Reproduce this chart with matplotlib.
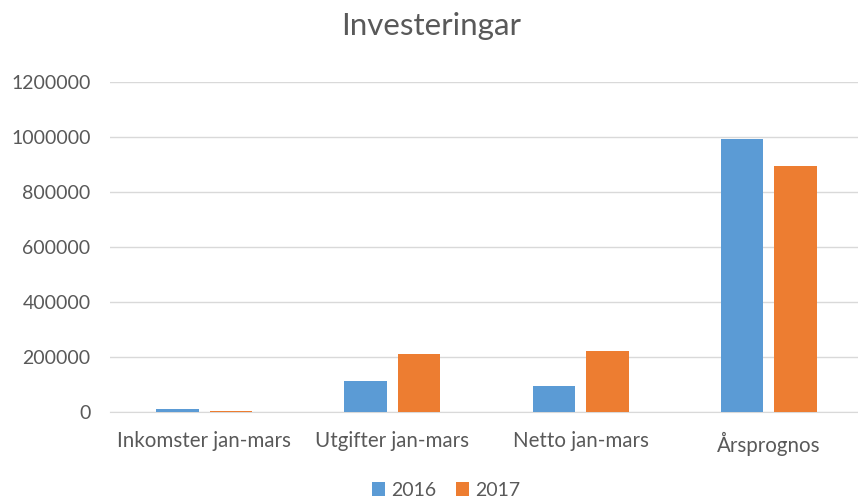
import numpy as np
import matplotlib
matplotlib.use("Agg")
import matplotlib.pyplot as plt

categories = ["Inkomster jan-mars", "Utgifter jan-mars", "Netto jan-mars", "Årsprognos"]
values_2016 = [12000, 114000, 96000, 992000]
values_2017 = [4000, 210000, 222000, 896000]
series_labels = ["2016", "2017"]
yticks = [0, 200000, 400000, 600000, 800000, 1000000, 1200000]

plt.rcParams["font.family"] = ["Lato", "DejaVu Sans"]
text_color = "#595959"
grid_color = "#d9d9d9"

fig = plt.figure(figsize=(8.58, 4.99), dpi=100)
ax = fig.add_axes([110 / 858, 1 - 412 / 499, 753 / 858, (412 - 82) / 499])

x = np.arange(len(categories))
w = 0.225
ax.bar(x - 0.142, values_2016, w, color="#5b9bd5", label=series_labels[0], zorder=3)
ax.bar(x + 0.142, values_2017, w, color="#ed7d31", label=series_labels[1], zorder=3)

ax.set_xlim(-0.5, len(categories) - 0.5)
ax.set_ylim(0, 1200000)
ax.set_yticks(yticks)
ax.set_yticklabels([str(v) for v in yticks])
ax.set_xticks(x)
ax.set_xticklabels(categories, fontsize=14.8)
ax.yaxis.grid(True, color=grid_color, linewidth=1)
ax.set_axisbelow(True)

for s in ["top", "right", "left"]:
    ax.spines[s].set_visible(False)
ax.spines["bottom"].set_color(grid_color)
ax.tick_params(axis="both", length=0, colors=text_color)
ax.tick_params(axis="y", pad=14, labelsize=14)
ax.tick_params(axis="x", pad=14)

fig.suptitle("Investeringar", x=0.503, y=0.975, fontsize=22.5, color=text_color)

fig.legend(loc="lower center", bbox_to_anchor=(0.52, -0.035), ncol=2, frameon=False,
           fontsize=14, labelcolor=text_color, handlelength=0.7, handleheight=0.7,
           handletextpad=0.3, columnspacing=1.0)

fig.savefig("out.png", dpi=100)
